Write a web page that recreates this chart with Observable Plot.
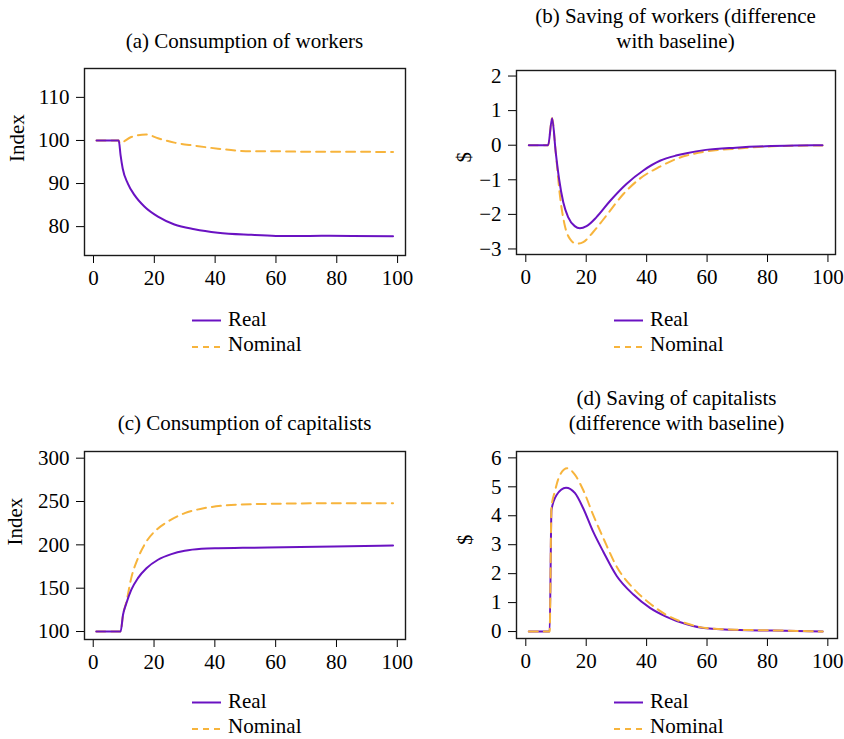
<!DOCTYPE html>
<html><head><meta charset="utf-8">
<script src="https://cdn.jsdelivr.net/npm/d3@7"></script>
<script src="https://cdn.jsdelivr.net/npm/@observablehq/plot@0.6"></script>
<style>
body{margin:0;background:#fff;}
#root{position:relative;width:844px;height:739px;overflow:hidden;background:#fff;font-family:'Liberation Serif','Times New Roman',serif;font-size:21px;color:#000;}
#root svg, #root svg text{font-family:'Liberation Serif','Times New Roman',serif !important;}
.abs{position:absolute;}
.title{text-align:center;line-height:25px;white-space:nowrap;}
.leg{line-height:25px;white-space:nowrap;}
</style></head>
<body><div id="root"></div>
<script>
// ---- data ----
const xTicks = [0, 20, 40, 60, 80, 100];
const seriesNames = ["Real", "Nominal"];

// (a) Consumption of workers (index)
const aRealT = [1, 8.3, 8.9, 9.6, 11.3, 13.5, 16.8, 21.2, 26.6, 33.2, 40.9, 51.9, 60, 67, 75, 85, 98.5];
const aRealV = [100, 100, 96.6, 93.5, 90.0, 87.3, 84.6, 82.3, 80.5, 79.4, 78.6, 78.1, 77.85, 77.8, 77.9, 77.85, 77.75];
const aNomT = [1, 8.3, 8.6, 12.4, 17.3, 21.2, 26.6, 33.2, 40.9, 51.9, 60, 68, 79, 98.5];
const aNomV = [100, 100, 99.4, 100.8, 101.4, 100.5, 99.5, 98.8, 98.1, 97.5, 97.5, 97.4, 97.4, 97.3];
const aYTicks = [80, 90, 100, 110];

// (b) Saving of workers (difference with baseline)
const bRealT = [1, 7.4, 8.7, 9.9, 11.0, 12.4, 14.0, 16.2, 17.9, 20.1, 23.4, 27.8, 33.3, 38.9, 44.4, 49.7, 53.2, 59.6, 69.5, 79.4, 89, 98.2];
const bRealV = [0, 0, 0.78, -0.2, -0.97, -1.65, -2.08, -2.34, -2.40, -2.34, -2.08, -1.62, -1.12, -0.73, -0.45, -0.3, -0.23, -0.135, -0.07, -0.03, -0.01, 0];
const bNomT = [1, 7.4, 8.7, 9.9, 11.3, 12.9, 14.6, 16.8, 19.0, 22.3, 26.7, 32.3, 37.7, 44.4, 49.7, 53.2, 59.6, 69.5, 79.4, 89, 98.2];
const bNomV = [0, 0, 0.78, -0.2, -1.46, -2.32, -2.71, -2.85, -2.80, -2.51, -2.03, -1.41, -0.97, -0.62, -0.4, -0.3, -0.18, -0.10, -0.04, -0.015, -0.01];
const bYTicks = [-3, -2, -1, 0, 1, 2];

// (c) Consumption of capitalists (index)
const cRealT = [1, 9.0, 9.8, 10.9, 12.5, 14.7, 17.5, 21.3, 25.7, 30.1, 35.6, 41.1, 46.4, 52.1, 57.4, 79.3, 98.6];
const cRealV = [100, 100, 119.3, 132.7, 148, 161.6, 173, 182.8, 189.3, 193.2, 195.5, 196.2, 196.5, 196.6, 196.9, 198, 199.2];
const cNomT = [1, 9.0, 9.8, 10.9, 12.5, 14.7, 17.5, 20.8, 24.6, 30.1, 35.6, 43.3, 52.1, 57.4, 79.3, 98.6];
const cNomV = [100, 100, 119.3, 134, 161.6, 184.6, 203.9, 217.4, 227, 236.6, 241.7, 245.5, 247, 247.3, 248, 248];
const cYTicks = [100, 150, 200, 250, 300];

// (d) Saving of capitalists (difference with baseline)
const dRealT = [1, 7.9, 8.5, 10.2, 13.3, 16.3, 19.0, 22.3, 25.7, 30.1, 35.6, 41.1, 46.6, 53.3, 59.7, 70.7, 81.8, 98.3];
const dRealV = [0, 0, 4.2, 4.72, 4.97, 4.78, 4.26, 3.45, 2.75, 1.92, 1.28, 0.82, 0.51, 0.25, 0.11, 0.05, 0.035, 0];
const dNomT = [1, 7.9, 8.5, 9.6, 11.3, 13.7, 16.3, 19.0, 22.3, 25.7, 30.1, 35.6, 41.1, 46.6, 53.3, 59.7, 70.7, 81.8, 98.3];
const dNomV = [0, 0, 4.3, 4.83, 5.41, 5.64, 5.41, 4.89, 4.03, 3.22, 2.24, 1.49, 0.97, 0.57, 0.28, 0.12, 0.06, 0.04, 0];
const dYTicks = [0, 1, 2, 3, 4, 5, 6];

const colors = {Real: "#6a12c2", Nominal: "#f7b43c"};
const FONT = "'Liberation Serif','Times New Roman',serif";
const fmt = d => (d < 0 ? "\u2212" : "") + Math.abs(d);

function rows(T, V) { return T.map((t, i) => ({t, v: V[i]})); }

const panels = [
  {title: ["(a) Consumption of workers"], ylabel: "Index", labelDx: -67,
   left: 0, top: 60, width: 422, ml: 84, mr: 17, mt: 8, fh: 187, mb: 35,
   xDomain: [-2.96, 102.6], yDomain: [73.3, 116.7], yTicks: aYTicks,
   real: rows(aRealT, aRealV), nom: rows(aNomT, aNomV), nomOnTop: false,
   titleBase: 48.5, legBase: 326.7},
  {title: ["(b) Saving of workers (difference", "with baseline)"], ylabel: "$", labelDx: -52,
   left: 422, top: 60, width: 422, ml: 94, mr: 9, mt: 10, fh: 184, mb: 36,
   xDomain: [-3.08, 102.5], yDomain: [-3.16, 2.16], yTicks: bYTicks,
   real: rows(bRealT, bRealV), nom: rows(bNomT, bNomV), nomOnTop: false,
   titleBase: 48.5, legBase: 326.7},
  {title: ["(c) Consumption of capitalists"], ylabel: "Index", labelDx: -69,
   left: 0, top: 443, width: 422, ml: 84, mr: 17, mt: 8, fh: 188, mb: 36,
   xDomain: [-2.87, 102.7], yDomain: [90.8, 307.7], yTicks: cYTicks,
   real: rows(cRealT, cRealV), nom: rows(cNomT, cNomV), nomOnTop: false,
   titleBase: 430.5, legBase: 708.7},
  {title: ["(d) Saving of capitalists", "(difference with baseline)"], ylabel: "$", labelDx: -51,
   left: 422, top: 443, width: 422, ml: 94, mr: 7, mt: 8, fh: 187, mb: 37,
   xDomain: [-3.08, 103.2], yDomain: [-0.24, 6.22], yTicks: dYTicks,
   real: rows(dRealT, dRealV), nom: rows(dNomT, dNomV), nomOnTop: true,
   titleBase: 430.5, legBase: 708.7}
];

const root = document.getElementById("root");

for (const p of panels) {
  const realMark = Plot.line(p.real, {x: "t", y: "v", stroke: colors.Real, strokeWidth: 2, curve: "monotone-x"});
  const nomMark = Plot.line(p.nom, {x: "t", y: "v", stroke: colors.Nominal, strokeWidth: 2, strokeDasharray: "9,6", curve: "monotone-x"});
  const svg = Plot.plot({
    width: p.width, height: p.mt + p.fh + p.mb,
    marginLeft: p.ml, marginRight: p.mr, marginTop: p.mt, marginBottom: p.mb,
    style: {fontFamily: FONT, fontSize: "21px", color: "#000", background: "transparent", overflow: "visible"},
    x: {domain: p.xDomain},
    y: {domain: p.yDomain},
    marks: [
      Plot.axisX({ticks: xTicks, tickSize: 8, tickPadding: 7, label: null, fontSize: 21, fontFamily: FONT, stroke: "#000", tickFormat: fmt}),
      Plot.axisY({ticks: p.yTicks, tickSize: 8, tickPadding: 7, label: null, fontSize: 21, fontFamily: FONT, stroke: "#000", tickFormat: fmt}),
      ...(p.nomOnTop ? [realMark, nomMark] : [nomMark, realMark]),
      Plot.frame({stroke: "#1a1a1a", strokeWidth: 1.4}),
      Plot.text([p.ylabel], {text: d => d, frameAnchor: "left", dx: p.labelDx, rotate: -90, fontSize: 21, fontFamily: FONT, fill: "#000"})
    ]
  });
  svg.classList.add("abs");
  svg.style.left = p.left + "px";
  svg.style.top = p.top + "px";
  svg.style.fontFamily = FONT;
  root.appendChild(svg);

  // title (centered over the frame)
  const t = document.createElement("div");
  t.className = "abs title";
  const fl = p.left + p.ml, fw = p.width - p.ml - p.mr;
  t.style.left = fl + "px";
  t.style.width = fw + "px";
  t.style.top = (p.titleBase - 19.6 - 25 * (p.title.length - 1)) + "px";
  t.innerHTML = p.title.join("<br>");
  root.appendChild(t);

  // legend
  const lx = p.left + 192;
  const sw = document.createElementNS("http://www.w3.org/2000/svg", "svg");
  sw.setAttribute("width", 32); sw.setAttribute("height", 60);
  sw.classList.add("abs");
  sw.style.left = lx + "px";
  sw.style.top = (p.legBase - 20) + "px";
  const y1 = 20 - 6.5, y2 = 45 - 5;
  sw.innerHTML = `<line x1="0" x2="29" y1="${y1}" y2="${y1}" stroke="${colors.Real}" stroke-width="2"/>` +
                 `<line x1="0" x2="29" y1="${y2}" y2="${y2}" stroke="${colors.Nominal}" stroke-width="2" stroke-dasharray="6,5"/>`;
  root.appendChild(sw);
  const lg = document.createElement("div");
  lg.className = "abs leg";
  lg.style.left = (lx + 36) + "px";
  lg.style.top = (p.legBase - 19.6) + "px";
  lg.innerHTML = seriesNames.join("<br>");
  root.appendChild(lg);
}
</script>
</body></html>
